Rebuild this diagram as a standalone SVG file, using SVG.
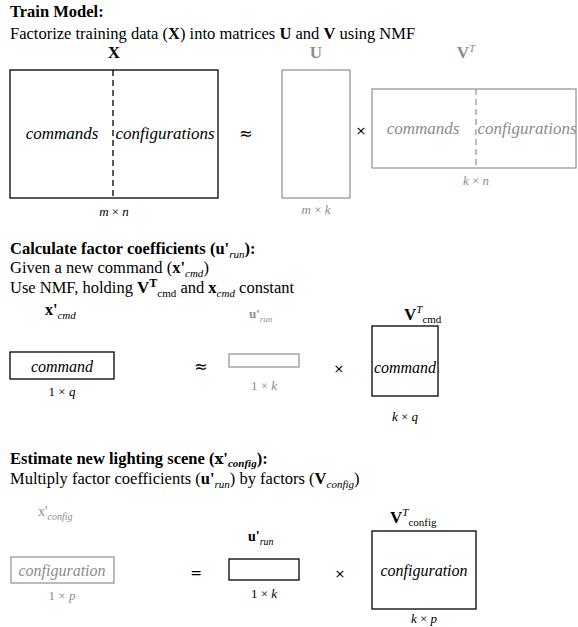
<svg xmlns="http://www.w3.org/2000/svg" width="578" height="627" viewBox="0 0 578 627">
<style>
text{font-family:"Liberation Serif","Times New Roman",serif;fill:#000}
.h{font-size:16.5px;font-weight:bold}
.t{font-size:16.5px}
.b{font-weight:bold}
.i{font-style:italic}
.g{fill:#8c8c8c}
.lbl{font-size:17px;font-weight:bold;text-anchor:middle}
.cell{font-size:17px;font-style:italic;text-anchor:middle}
.dim{font-size:13px;text-anchor:middle}
.op{font-size:16px;text-anchor:middle;font-family:"DejaVu Sans",sans-serif}
.box{fill:none;stroke:#000;stroke-width:1.3}
.gbox{fill:none;stroke:#999;stroke-width:1.3}
.dash{stroke:#000;stroke-width:1.3;stroke-dasharray:6,4}
.gdash{stroke:#999;stroke-width:1.3;stroke-dasharray:6,4}
</style>
<rect width="578" height="627" fill="#fff"/>

<!-- Section 1 -->
<g id="sec1-text">
<text class="h" x="10" y="17">Train Model:</text>
<text class="t" x="10" y="39">Factorize training data (<tspan class="b">X</tspan>) into matrices <tspan class="b">U</tspan> and <tspan class="b">V</tspan> using NMF</text>
</g>
<g id="X">
<text class="lbl" x="114" y="58">X</text>
<rect class="box" x="10" y="70" width="208" height="128"/>
<line class="dash" x1="113" y1="70" x2="113" y2="198"/>
<text class="cell" x="62" y="139">commands</text>
<text class="cell" x="165" y="139">configurations</text>
<text class="dim" x="114" y="216"><tspan class="i">m</tspan> × <tspan class="i">n</tspan></text>
</g>
<g id="approx1"><text class="op" x="246" y="139">≈</text></g>
<g id="U">
<text class="lbl g" x="316" y="58">U</text>
<rect class="gbox" x="282" y="70" width="68" height="128"/>
<text class="dim g" x="316" y="214"><tspan class="i">m</tspan> × <tspan class="i">k</tspan></text>
</g>
<g id="times1"><text class="op" x="361" y="135" style="font-size:13px">×</text></g>
<g id="VT">
<text class="lbl g" x="466" y="58">V<tspan class="i" style="font-weight:normal;font-size:11px" dy="-6">T</tspan></text>
<rect class="gbox" x="372" y="89" width="204" height="79"/>
<line class="gdash" x1="476" y1="89" x2="476" y2="168"/>
<text class="cell g" x="423" y="134">commands</text>
<text class="cell g" x="527" y="134">configurations</text>
<text class="dim g" x="476" y="185"><tspan class="i">k</tspan> × <tspan class="i">n</tspan></text>
</g>

<!-- Section 2 -->
<g id="sec2-text">
<text class="h" x="10" y="254">Calculate factor coefficients (u'<tspan class="i" style="font-weight:normal;font-size:11px" dy="4">run</tspan><tspan dy="-4">):</tspan></text>
<text class="t" x="10" y="273">Given a new command (<tspan class="b">x'</tspan><tspan class="i" style="font-size:11px" dy="4">cmd</tspan><tspan dy="-4">)</tspan></text>
<text class="t" x="10" y="293">Use NMF, holding <tspan class="b" style="font-size:17px">V</tspan><tspan class="b" style="font-size:12px" dy="-6">T</tspan><tspan style="font-size:11px" dy="10">cmd</tspan><tspan dy="-4"> and </tspan><tspan class="b">x</tspan><tspan class="i" style="font-size:11px" dy="4">cmd</tspan><tspan dy="-4"> constant</tspan></text>
</g>
<g id="xcmd">
<text x="45" y="315" style="font-size:16px;font-weight:bold">x'<tspan class="i" style="font-weight:normal;font-size:11px" dy="4">cmd</tspan></text>
<rect class="box" x="10" y="352" width="104" height="27"/>
<text class="cell" x="62" y="372" style="font-size:16px">command</text>
<text class="dim" x="62" y="396">1 × <tspan class="i">q</tspan></text>
</g>
<g id="approx2"><text class="op" x="201" y="372">≈</text></g>
<g id="urun1">
<text class="g" x="249" y="318" style="font-size:13px;font-weight:bold">u'<tspan class="i" style="font-weight:normal;font-size:9px" dy="4">run</tspan></text>
<rect class="gbox" x="229" y="354" width="70" height="13"/>
<text class="dim g" x="264" y="390">1 × <tspan class="i">k</tspan></text>
</g>
<g id="times2"><text class="op" x="339" y="373" style="font-size:13px">×</text></g>
<g id="VTcmd">
<text x="404" y="320" style="font-size:17px;font-weight:bold">V<tspan class="i" style="font-weight:normal;font-size:11px" dy="-7">T</tspan><tspan style="font-weight:normal;font-size:11px" dy="10">cmd</tspan></text>
<rect class="box" x="372" y="326" width="66" height="70"/>
<text class="cell" x="405" y="373" style="font-size:16px">command</text>
<text class="dim" x="405" y="421"><tspan class="i">k</tspan> × <tspan class="i">q</tspan></text>
</g>

<!-- Section 3 -->
<g id="sec3-text">
<text class="h" x="10" y="464">Estimate new lighting scene (<tspan style="font-family:'DejaVu Serif',serif;font-size:15px">x</tspan>'<tspan class="i" style="font-size:11px" dy="3">config</tspan><tspan dy="-3">):</tspan></text>
<text class="t" x="10" y="484">Multiply factor coefficients (<tspan class="b">u'</tspan><tspan class="i" style="font-size:11px" dy="4">run</tspan><tspan dy="-4">) by factors (</tspan><tspan class="b">V</tspan><tspan class="i" style="font-size:11px" dy="4">config</tspan><tspan dy="-4">)</tspan></text>
</g>
<g id="xconfig">
<text class="g" x="38" y="516" style="font-size:14px">x'<tspan class="i" style="font-size:10px" dy="4">config</tspan></text>
<rect class="gbox" x="11" y="557" width="103" height="26"/>
<text class="cell g" x="62" y="576" style="font-size:16px">configuration</text>
<text class="dim g" x="62" y="600">1 × <tspan class="i">p</tspan></text>
</g>
<g id="equals"><text class="op" x="196" y="578" style="font-size:14px">=</text></g>
<g id="urun2">
<text x="248" y="541" style="font-size:14px;font-weight:bold">u'<tspan class="i" style="font-weight:normal;font-size:10px" dy="4">run</tspan></text>
<rect class="box" x="229" y="559" width="70" height="21"/>
<text class="dim" x="264" y="598">1 × <tspan class="i">k</tspan></text>
</g>
<g id="times3"><text class="op" x="340" y="578" style="font-size:13px">×</text></g>
<g id="VTconfig">
<text x="390" y="523" style="font-size:17px;font-weight:bold">V<tspan class="i" style="font-weight:normal;font-size:11px" dy="-7">T</tspan><tspan style="font-weight:normal;font-size:11px" dy="10">config</tspan></text>
<rect class="box" x="372" y="531" width="104" height="78"/>
<text class="cell" x="424" y="576" style="font-size:16px">configuration</text>
<text class="dim" x="424" y="623"><tspan class="i">k</tspan> × <tspan class="i">p</tspan></text>
</g>
<g id="connectors"/>
</svg>
